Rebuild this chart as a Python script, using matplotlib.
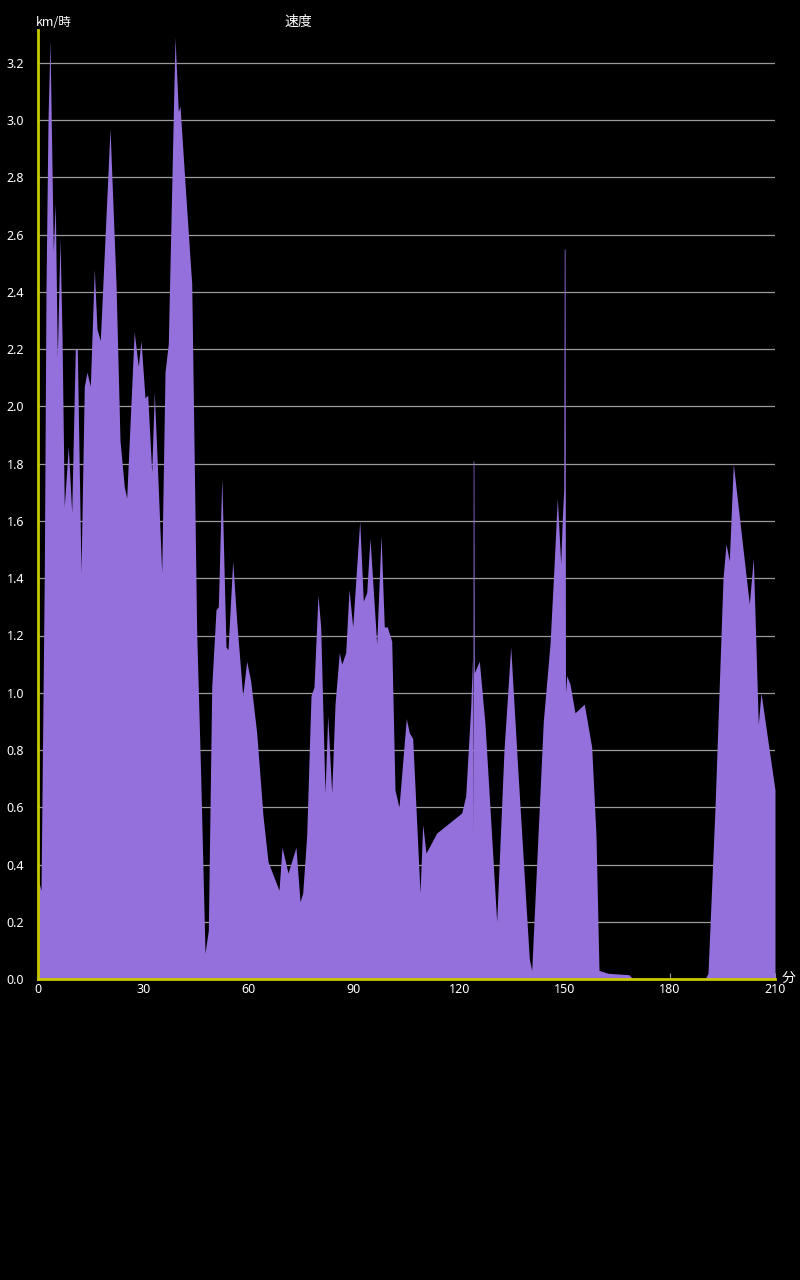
import matplotlib
matplotlib.use("Agg")
import matplotlib.pyplot as plt
import numpy as np

# ---- data (minutes, km/h) ----
minutes = [
    0.00, 0.86, 1.80, 2.28, 2.85, 3.42, 4.36, 4.93, 5.50, 6.27, 6.84, 7.49,
    8.63, 9.60, 10.63, 11.20, 12.25, 13.19, 13.96, 14.90, 16.04, 16.81, 17.75,
    20.52, 22.23, 23.37, 24.59, 25.27, 27.41, 28.58, 29.35, 30.49, 31.26,
    32.40, 33.14, 33.99, 35.25, 36.19, 37.13, 39.04, 39.98, 40.46, 41.89,
    43.51, 43.80, 45.22, 46.36, 47.59, 48.53, 49.50, 50.72, 51.38, 52.37,
    53.57, 54.14, 55.48, 56.62, 58.33, 59.47, 60.61, 62.32, 64.11, 65.54,
    68.67, 69.53, 71.24, 73.51, 74.66, 75.42, 76.56, 77.79, 78.64, 79.78,
    80.55, 81.78, 82.55, 83.69, 84.63, 85.85, 86.54, 87.68, 88.62, 89.67,
    91.67, 92.69, 93.66, 94.60, 96.51, 97.74, 98.67, 99.53, 100.79, 101.72,
    102.86, 104.94, 105.80, 106.77, 108.85, 109.62, 110.56, 113.61, 120.73,
    121.87, 123.30, 123.78, 123.92, 124.00, 124.20, 124.32, 125.75, 127.37,
    130.70, 132.78, 134.69, 136.77, 139.99, 140.68, 143.98, 145.89, 147.03,
    147.97, 148.94, 149.40, 149.80, 149.95, 150.18, 150.30, 150.65, 151.59,
    153.01, 155.66, 157.77, 159.00, 159.85, 162.42, 168.40, 169.54, 190.06,
    190.91, 192.91, 195.19, 196.04, 196.98, 198.12, 202.68, 203.82, 205.24,
    206.01, 210.00,
]
speed = [
    0.35, 0.31, 1.42, 2.41, 3.00, 3.28, 2.54, 2.71, 2.17, 2.59, 2.25, 1.65,
    1.86, 1.63, 2.20, 2.20, 1.42, 2.07, 2.12, 2.07, 2.48, 2.27, 2.23,
    2.97, 2.43, 1.88, 1.72, 1.68, 2.26, 2.14, 2.23, 2.03, 2.04,
    1.77, 2.05, 1.80, 1.42, 2.12, 2.22, 3.29, 3.03, 3.05, 2.78,
    2.48, 2.43, 1.21, 0.71, 0.09, 0.17, 1.02, 1.29, 1.30, 1.75,
    1.16, 1.15, 1.46, 1.25, 0.99, 1.11, 1.04, 0.86, 0.57, 0.41,
    0.31, 0.46, 0.37, 0.46, 0.27, 0.30, 0.50, 0.99, 1.02, 1.34,
    1.23, 0.65, 0.92, 0.65, 0.96, 1.14, 1.10, 1.14, 1.36, 1.23,
    1.60, 1.32, 1.35, 1.54, 1.17, 1.55, 1.23, 1.23, 1.18, 0.66,
    0.60, 0.91, 0.86, 0.84, 0.30, 0.54, 0.44, 0.51, 0.58,
    0.64, 0.95, 1.12, 0.49, 1.81, 1.81, 1.07, 1.11, 0.89,
    0.20, 0.80, 1.16, 0.72, 0.07, 0.03, 0.90, 1.17, 1.44,
    1.68, 1.45, 1.61, 1.71, 2.55, 2.55, 1.00, 1.06, 1.03,
    0.93, 0.96, 0.81, 0.50, 0.03, 0.02, 0.015, 0.00, 0.00,
    0.02, 0.60, 1.40, 1.52, 1.46, 1.80, 1.31, 1.47, 0.89,
    1.00, 0.66,
]
x_ticks = [0, 30, 60, 90, 120, 150, 180, 210]
y_ticks = [0.0, 0.2, 0.4, 0.6, 0.8, 1.0, 1.2, 1.4, 1.6, 1.8, 2.0, 2.2, 2.4,
           2.6, 2.8, 3.0, 3.2]
title = "速度"
y_unit = "km/時"
x_unit = "分"

# ---- style ----
BG = "black"
FILL = "#9370DB"
AXIS = "#c8c800"
GRID = "#9a9a9a"
CJK = ["Noto Sans CJK JP", "DejaVu Sans"]
plt.rcParams["font.family"] = ["Noto Sans", "DejaVu Sans"]

fig = plt.figure(figsize=(8, 12.8), dpi=100, facecolor=BG)
ax = fig.add_axes([38 / 800, 301 / 1280, 737 / 800, 949 / 1280])
ax.set_facecolor(BG)

ax.fill_between(minutes, speed, 0, color=FILL, lw=0, zorder=2)

ax.set_xlim(0, 210)
ax.set_ylim(0, 949 / 286.25)
ax.set_xticks(x_ticks)
ax.set_xticklabels([str(t) for t in x_ticks])
ax.set_yticks(y_ticks)
ax.set_yticklabels([f"{t:.1f}" for t in y_ticks])

ax.set_axisbelow(True)
ax.grid(axis="y", color=GRID, lw=0.9)
ax.grid(axis="x", visible=False)

for s in ["top", "right"]:
    ax.spines[s].set_visible(False)
for s in ["left", "bottom"]:
    ax.spines[s].set_color(AXIS)
    ax.spines[s].set_linewidth(2)
    ax.spines[s].set_zorder(5)

ax.tick_params(axis="y", length=0, pad=10, labelcolor="white", labelsize=9)
ax.tick_params(axis="x", direction="in", length=4, color=GRID, width=0.8,
               pad=3, labelcolor="white", labelsize=9)

fig.text(36 / 800, 1 - 22 / 1280, y_unit, color="white", fontsize=9,
         family=CJK, ha="left", va="center")
fig.text(298 / 800, 1 - 22 / 1280, title, color="white", fontsize=10,
         family=CJK, ha="center", va="center")
fig.text(789 / 800, 1 - 978 / 1280, x_unit, color="white", fontsize=10,
         family=CJK, ha="center", va="center")

fig.savefig("out.png", dpi=100, facecolor=BG)
